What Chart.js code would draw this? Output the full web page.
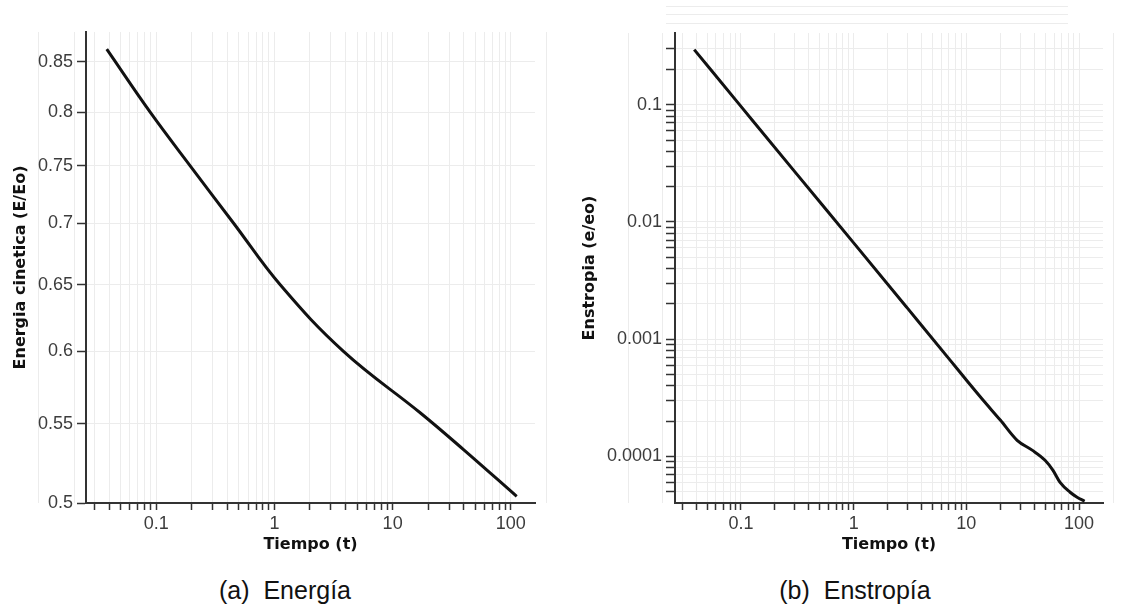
<!DOCTYPE html>
<html>
<head>
<meta charset="utf-8">
<script src="https://cdn.jsdelivr.net/npm/chart.js@4.4.0/dist/chart.umd.min.js"></script>
<style>
  body { margin: 0; background: #fff; width: 1133px; height: 610px; overflow: hidden; position: relative; }
  .caja { position: absolute; top: 0; }
  .pie { position: absolute; top: 578px; width: 300px; text-align: center; white-space: pre;
         font: 25px "Liberation Sans", Arial, sans-serif; line-height: 25px; color: #111; }
</style>
</head>
<body>
<div class="caja" style="left:0"><canvas id="energia" width="566" height="560"></canvas></div>
<div class="caja" style="left:566px"><canvas id="enstropia" width="567" height="560"></canvas></div>
<div class="pie" style="left:135px">(a)  Energía</div>
<div class="pie" style="left:705px">(b)  Enstropía</div>

<script>
// (a) energia cinetica E/Eo contra tiempo
var tiempoE = [0.0382, 0.089, 0.194, 0.452, 1.12, 3.84, 17.3, 40, 112];
var energia = [0.863, 0.80, 0.75, 0.70, 0.65, 0.60, 0.557, 0.533, 0.504];

// (b) enstropia e/eo contra tiempo
var tiempoS = [0.0385, 0.1, 0.3, 1, 3, 7.2, 10.2, 14.1, 20, 28.2, 38.3, 49.9, 58.7, 67.8, 83.2, 96, 112];
var enstropia = [0.296, 0.097, 0.0269, 0.00664, 0.00184, 0.00066, 0.000437, 0.000301, 0.000204,
                 0.000137, 0.000113, 0.0000927, 0.000076, 0.00006, 0.0000494, 0.0000448, 0.0000414];

// ticks
var ticksT = [0.03, 0.04, 0.05, 0.06, 0.07, 0.08, 0.09,
              0.1, 0.2, 0.3, 0.4, 0.5, 0.6, 0.7, 0.8, 0.9,
              1, 2, 3, 4, 5, 6, 7, 8, 9,
              10, 20, 30, 40, 50, 60, 70, 80, 90, 100];
var etiquetasT = {"0.1": "0.1", "1": "1", "10": "10", "100": "100"};
var ticksE = [0.5, 0.55, 0.6, 0.65, 0.7, 0.75, 0.8, 0.85];
var ticksS = [0.00005, 0.00006, 0.00007, 0.00008, 0.00009,
              0.0001, 0.0002, 0.0003, 0.0004, 0.0005, 0.0006, 0.0007, 0.0008, 0.0009,
              0.001, 0.002, 0.003, 0.004, 0.005, 0.006, 0.007, 0.008, 0.009,
              0.01, 0.02, 0.03, 0.04, 0.05, 0.06, 0.07, 0.08, 0.09,
              0.1, 0.2, 0.3];
var etiquetasS = {"0.1": "0.1", "0.01": "0.01", "0.001": "0.001", "0.0001": "0.0001"};

var gris = '#ececec';
var oscuro = '#333';
var fuenteTicks = { family: 'Liberation Sans', size: 18 };
var fuenteTitulo = { family: 'DejaVu Sans', size: 16, weight: 'bold' };

// the grid of the original runs a bit past the axes
var rejillaFuera = {
  id: 'rejillaFuera',
  beforeDraw: function(chart, args, opts) {
    var ctx = chart.ctx, a = chart.chartArea;
    var x = chart.scales.x, y = chart.scales.y;
    ctx.save();
    ctx.strokeStyle = gris;
    ctx.lineWidth = 1;
    (opts.verticales || []).forEach(function(v) {
      var px = Math.round(x.getPixelForValue(v)) + 0.5;
      ctx.beginPath(); ctx.moveTo(px, a.top); ctx.lineTo(px, a.bottom); ctx.stroke();
    });
    (opts.horizontales || []).forEach(function(v) {
      var py = Math.round(y.getPixelForValue(v)) + 0.5;
      ctx.beginPath(); ctx.moveTo(a.left - 9, py); ctx.lineTo(a.right - 35, py); ctx.stroke();
    });
    ctx.restore();
  }
};

function puntos(xs, ys) {
  var p = [];
  for (var i = 0; i < xs.length; i++) p.push({ x: xs[i], y: ys[i] });
  return p;
}

function ejeX(min, max) {
  return {
    type: 'logarithmic',
    min: min, max: max,
    afterBuildTicks: function(s) { s.ticks = ticksT.map(function(v) { return { value: v }; }); },
    afterFit: function(s) { s.height = 57; },
    ticks: {
      autoSkip: false, maxRotation: 0, minRotation: 0, padding: 3,
      color: '#3c3c3c', font: fuenteTicks,
      callback: function(v) { return etiquetasT[String(v)] || ''; }
    },
    grid: { color: gris, tickColor: oscuro, tickLength: 7, tickWidth: 1.5 },
    border: { color: oscuro, width: 2 },
    title: { display: true, text: 'Tiempo (t)', color: '#111', font: fuenteTitulo, padding: { top: 0, bottom: 6 } }
  };
}

function ejeY(min, max, ticks, etiquetas, titulo, ancho, pad) {
  return {
    type: 'logarithmic',
    min: min, max: max,
    afterBuildTicks: function(s) { s.ticks = ticks.map(function(v) { return { value: v }; }); },
    afterFit: function(s) { s.width = ancho; },
    ticks: {
      autoSkip: false, padding: 4,
      color: '#3c3c3c', font: fuenteTicks,
      callback: function(v) { return etiquetas ? (etiquetas[String(v)] || '') : String(v); }
    },
    grid: { color: gris, tickColor: oscuro, tickLength: 9, tickWidth: 1.5 },
    border: { color: oscuro, width: 2 },
    title: { display: true, text: titulo, color: '#111', font: fuenteTitulo, padding: { top: pad, bottom: 0 } }
  };
}

function grafica(id, datos, suave, opcX, opcY, relleno, fuera) {
  return new Chart(document.getElementById(id), {
    type: 'scatter',
    data: {
      datasets: [{
        data: datos,
        showLine: true,
        borderColor: '#111',
        borderWidth: 3,
        pointRadius: 0,
        fill: false,
        tension: 0.4,
        cubicInterpolationMode: suave
      }]
    },
    options: {
      responsive: false,
      animation: false,
      layout: { padding: relleno },
      plugins: { legend: { display: false }, tooltip: { enabled: false }, rejillaFuera: fuera },
      scales: { x: opcX, y: opcY }
    },
    plugins: [rejillaFuera]
  });
}

grafica('energia', puntos(tiempoE, energia), 'default',
  ejeX(0.0255, 160),
  ejeY(0.5, 0.881, ticksE, null, 'Energia cinetica (E/Eo)', 86, 11),
  { top: 32, right: 31, left: 0, bottom: 0 },
  { verticales: [0.01, 0.02, 200], horizontales: [] });

grafica('enstropia', puntos(tiempoS, enstropia), 'monotone',
  ejeX(0.026, 163),
  ejeY(0.00004, 0.41, ticksS, etiquetasS, 'Enstropia (e/eo)', 109, 14),
  { top: 33, right: 30, left: 0, bottom: 0 },
  { verticales: [0.01, 0.02, 200], horizontales: [0.5, 0.6, 0.7, 0.8, 0.9] });
</script>
</body>
</html>
